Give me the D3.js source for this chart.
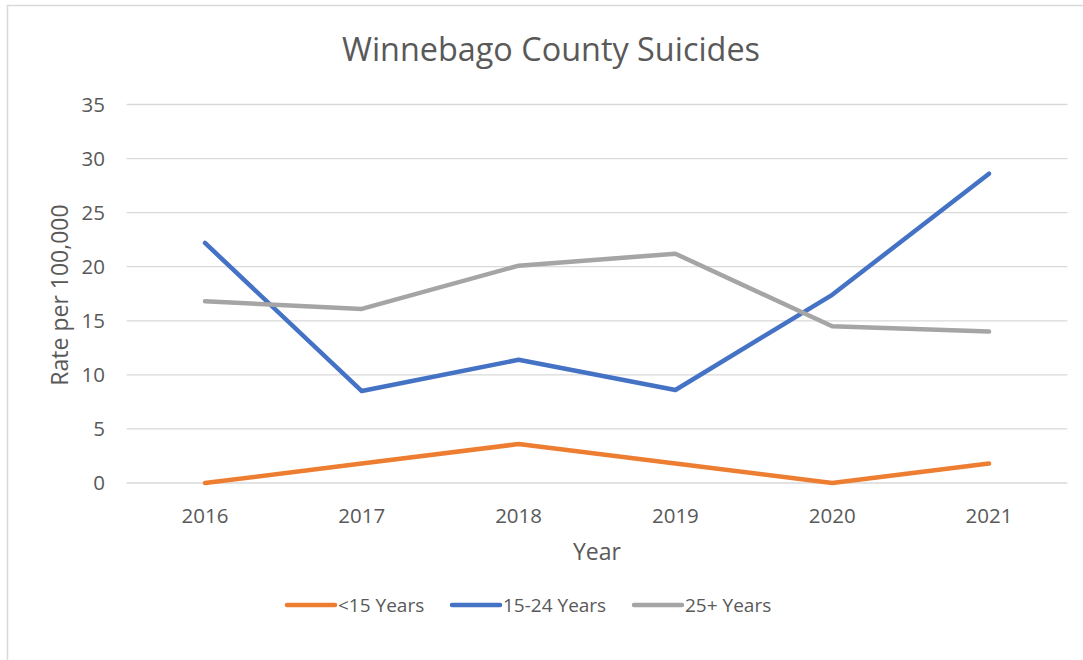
<!DOCTYPE html>
<html>
<head>
<meta charset="utf-8">
<script src="https://cdn.jsdelivr.net/npm/d3@7"></script>
<style>
  body { margin: 0; background: #fff; }
  svg text { font-family: "Open Sans", "Liberation Sans", sans-serif; fill: #595959; }
</style>
</head>
<body>
<div id="chart"></div>
<script>
// data
var years = ["2016", "2017", "2018", "2019", "2020", "2021"];
var under15 = [0, 1.8, 3.6, 1.8, 0, 1.8];
var age15to24 = [22.2, 8.5, 11.4, 8.6, 17.4, 28.6];
var age25plus = [16.8, 16.1, 20.1, 21.2, 14.5, 14.0];
var seriesNames = ["<15 Years", "15-24 Years", "25+ Years"];
var yTicks = [0, 5, 10, 15, 20, 25, 30, 35];

var colors = ["#ed7d31", "#4472c4", "#a5a5a5"];
var allSeries = [under15, age15to24, age25plus];

var W = 1083, H = 660;
var svg = d3.select("#chart").append("svg")
  .attr("width", W).attr("height", H);

// chart border
svg.append("rect")
  .attr("x", 7.5).attr("y", 5.5)
  .attr("width", W + 10).attr("height", H + 10)
  .attr("fill", "none").attr("stroke", "#d9d9d9").attr("stroke-width", 1.5);

var x = d3.scaleBand()
  .domain(years)
  .range([126.6, 1067.4]);

var y = d3.scaleLinear()
  .domain([0, 35])
  .range([483, 104.5]);

// gridlines
svg.append("g")
  .selectAll("line")
  .data(yTicks)
  .enter()
  .append("line")
    .attr("x1", x.range()[0])
    .attr("x2", x.range()[1])
    .attr("y1", function(d) { return y(d); })
    .attr("y2", function(d) { return y(d); })
    .attr("stroke", "#d9d9d9")
    .attr("stroke-width", 1.3)

// y tick labels
svg.append("g")
  .selectAll("text")
  .data(yTicks)
  .enter()
  .append("text")
    .attr("x", 105)
    .attr("y", function(d) { return y(d); })
    .attr("dy", "0.35em")
    .attr("text-anchor", "end")
    .style("font-size", "20.5px")
    .text(function(d) { return d; })

// x tick labels
svg.append("g")
  .selectAll("text")
  .data(years)
  .enter()
  .append("text")
    .attr("x", function(d) { return x(d) + x.bandwidth() / 2; })
    .attr("y", 516)
    .attr("dy", "0.35em")
    .attr("text-anchor", "middle")
    .style("font-size", "20.5px")
    .text(function(d) { return d; })

// title
svg.append("text")
  .attr("x", 551)
  .attr("y", 50)
  .attr("dy", "0.35em")
  .attr("text-anchor", "middle")
  .style("font-size", "32.4px")
  .text("Winnebago County Suicides");

// axis titles
svg.append("text")
  .attr("x", 597)
  .attr("y", 552)
  .attr("dy", "0.35em")
  .attr("text-anchor", "middle")
  .style("font-size", "23px")
  .text("Year");

svg.append("text")
  .attr("transform", "translate(60,295)rotate(-90)")
  .attr("dy", "0.35em")
  .attr("text-anchor", "middle")
  .style("font-size", "23px")
  .text("Rate per 100,000");

// lines
var line = d3.line()
  .x(function(d, i) { return x(years[i]) + x.bandwidth() / 2; })
  .y(function(d) { return y(d); });

svg.append("g")
  .selectAll("path")
  .data(allSeries)
  .enter()
  .append("path")
    .attr("d", function(d) { return line(d); })
    .attr("fill", "none")
    .attr("stroke", function(d, i) { return colors[i]; })
    .attr("stroke-width", 4.5)
    .attr("stroke-linecap", "round")
    .attr("stroke-linejoin", "round")

// legend
var legendX = [287, 452, 634];
var lg = svg.append("g")
  .selectAll("g")
  .data(seriesNames)
  .enter()
  .append("g")
    .attr("transform", function(d, i) { return "translate(" + legendX[i] + ",605)"; })

lg.append("line")
  .attr("x1", 0).attr("x2", 48)
  .attr("y1", 0).attr("y2", 0)
  .attr("stroke", function(d, i) { return colors[i]; })
  .attr("stroke-width", 4.5)
  .attr("stroke-linecap", "round")

lg.append("text")
  .attr("x", 51)
  .attr("y", 0)
  .attr("dy", "0.35em")
  .style("font-size", "19px")
  .text(function(d) { return d; })
</script>
</body>
</html>
